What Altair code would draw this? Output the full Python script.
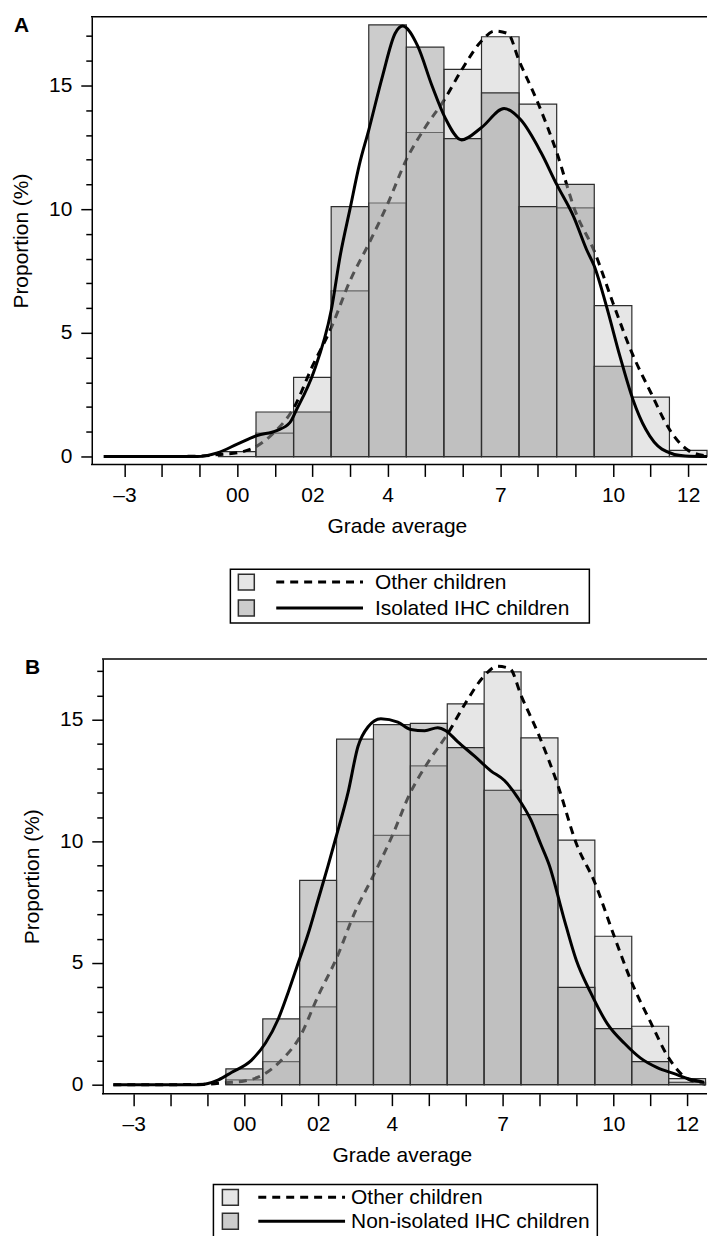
import altair as alt
import pandas as pd

# ---------------- data ----------------
bins = list(range(0, 13))
other_pct = [0.2, 0.95, 3.2, 6.7, 10.25, 13.1, 15.65, 16.97, 14.25, 10.05, 6.1, 2.4, 0.25]
isolated_pct = [0, 1.8, 1.8, 10.1, 17.45, 16.55, 12.85, 14.7, 10.1, 11.0, 3.65, 0, 0]
nonisolated_pct = [0.65, 2.7, 8.4, 14.2, 14.8, 14.85, 13.85, 12.1, 11.1, 4.0, 2.3, 0.95, 0.1]

other_curve_x = [-3.55, -2.0, -1.0, -0.5, 0.0, 0.5, 1.0, 1.5, 2.0, 2.5, 3.0, 3.5, 4.0, 4.5,
                 5.0, 5.5, 6.0, 6.5, 6.85, 7.2, 7.5, 8.0, 8.5, 9.0, 9.5, 10.0, 10.5, 11.0,
                 11.5, 12.0, 12.5]
other_curve_y = [0.0, 0.0, 0.02, 0.08, 0.15, 0.4, 1.0, 1.95, 3.65, 5.2, 7.1, 8.6, 10.2, 12.0,
                 13.3, 14.4, 15.7, 16.8, 17.2, 17.1, 16.0, 14.3, 12.3, 9.9, 8.3, 6.2, 4.2, 2.6,
                 1.1, 0.25, 0.02]

isolated_curve_x = [-3.55, -1.05, -0.53, 0.0, 0.53, 1.05, 1.4, 1.58, 2.03, 2.5, 2.75, 3.0, 3.25,
                    3.5, 3.87, 4.2, 4.4, 4.8, 5.18, 5.53, 5.97, 6.5, 7.1, 7.55, 8.08, 8.5, 8.95,
                    9.3, 9.5, 9.82, 10.18, 10.53, 10.87, 11.3, 11.92, 12.5]
isolated_curve_y = [0.0, 0.0, 0.15, 0.5, 0.85, 1.05, 1.37, 1.9, 3.4, 5.9, 8.2, 10.0, 11.8,
                    13.2, 15.4, 17.1, 17.4, 16.6, 15.0, 13.7, 12.8, 13.3, 14.07, 13.6, 12.3, 11.0, 9.7,
                    8.35, 7.7, 6.1, 4.07, 2.3, 1.1, 0.3, 0.02, 0.0]

nonisolated_curve_x = [-3.55, -1.24, -0.7, -0.35, 0.19, 0.57, 0.92, 1.19, 1.46, 1.73, 2.0, 2.27,
                       2.49, 2.81, 3.08, 3.35, 3.7, 4.16, 4.51, 4.89, 5.24, 5.46, 5.78, 6.24, 6.68,
                       7.05, 7.41, 7.76, 8.03, 8.27, 8.65, 9.0, 9.38, 9.84, 10.3, 10.73, 11.19,
                       11.65, 12.08, 12.46]
nonisolated_curve_y = [0.0, 0.0, 0.2, 0.5, 1.0, 1.7, 2.7, 3.8, 5.0, 6.2, 7.6, 9.0,
                       10.2, 12.0, 13.9, 14.7, 15.04, 14.9, 14.6, 14.55, 14.67, 14.55, 14.1, 13.5, 12.9,
                       12.5, 11.8, 10.9, 9.9, 9.0, 6.9, 5.1, 3.8, 2.5, 1.7, 1.1, 0.7,
                       0.45, 0.22, 0.1]

tick_values = list(range(-3, 13))
tick_labels = {-3: "\u20133", 0: "00", 2: "02", 4: "4", 7: "7", 10: "10", 12: "12"}
y_tick_values = list(range(0, 18))

legend_labels_a = ["Other children", "Isolated IHC children"]
legend_labels_b = ["Other children", "Non-isolated IHC children"]

# ---------------- styles ----------------
FONT = "Liberation Sans"
FS = 21
OTHER_FILL = "#e6e6e6"
IHC_FILL = "#9d9d9d"
IHC_OPACITY = 0.52
IHC_SWATCH = "#cccccc"
EDGE = "#2e2e2e"

label_expr = " : ".join(f"datum.value === {v} ? '{t}'" for v, t in tick_labels.items()) + " : ''"


def bar_df(values):
    return pd.DataFrame({
        "lo": [b - 0.5 for b, v in zip(bins, values) if v > 0],
        "hi": [b + 0.5 for b, v in zip(bins, values) if v > 0],
        "zero": [0.0 for v in values if v > 0],
        "pct": [v for v in values if v > 0],
    })


def panel(letter, ihc_values, ihc_cx, ihc_cy, labels, xdom, ydom, width, height,
          title_x, legend, inset=0):
    xs = alt.Scale(domain=xdom, nice=False, zero=False)
    ys = alt.Scale(domain=ydom, nice=False, zero=False)
    x_axis = alt.Axis(values=tick_values, labelExpr=label_expr, tickSize=12, tickWidth=1.5,
                      tickColor="black", domain=False,
                      labelFont=FONT, labelFontSize=FS, labelColor="black", labelPadding=8,
                      labelOverlap=False, labelFlush=False, grid=False,
                      title="Grade average", titleFont=FONT, titleFontSize=FS,
                      titleFontWeight="normal", titleColor="black", titlePadding=10,
                      titleX=title_x)
    y_axis = alt.Axis(values=y_tick_values, offset=-inset,
                      labelExpr="datum.value % 5 === 0 ? datum.label : ''",
                      tickSize={"condition": {"test": "datum.value % 5 === 0", "value": 11}, "value": 6},
                      tickWidth=1.5, tickColor="black", domainColor="black", domainWidth=1.5,
                      labelFont=FONT, labelFontSize=FS, labelColor="black", labelPadding=9,
                      labelOverlap=False, labelFlush=False, grid=False,
                      title="Proportion (%)", titleFont=FONT, titleFontSize=FS,
                      titleFontWeight="normal", titleColor="black", titlePadding=17)

    def X(f):
        return alt.X(f, type="quantitative", scale=xs, axis=x_axis)

    def Y(f):
        return alt.Y(f, type="quantitative", scale=ys, axis=y_axis)

    other_bars = alt.Chart(bar_df(other_pct)).mark_rect(
        fill=OTHER_FILL, stroke=EDGE, strokeWidth=1.2).encode(
        x=X("lo"), x2="hi", y=Y("zero"), y2="pct")
    other_line = alt.Chart(pd.DataFrame({"x": other_curve_x, "y": other_curve_y})).mark_line(
        color="black", strokeWidth=3, strokeDash=[8, 6], interpolate="monotone").encode(
        x=X("x"), y=Y("y"))
    ihc_bars = alt.Chart(bar_df(ihc_values)).mark_rect(
        fill=IHC_FILL, fillOpacity=IHC_OPACITY, stroke=EDGE, strokeWidth=1.2).encode(
        x=X("lo"), x2="hi", y=Y("zero"), y2="pct")
    ihc_line = alt.Chart(pd.DataFrame({"x": ihc_cx, "y": ihc_cy})).mark_line(
        color="black", strokeWidth=3, interpolate="monotone").encode(
        x=X("x"), y=Y("y"))

    one = pd.DataFrame({"k": [0]})
    lx0, lx1, ly0, ly1, sq_x, ln0, ln1, tx, rows_c, rows_b = legend
    layers = [other_bars, other_line, ihc_bars, ihc_line]
    # frame: top edge and bottom edge (left edge is the y-axis domain line)
    for yy in (0, height):
        layers.append(alt.Chart(one).mark_rule(color="black", strokeWidth=1.5).encode(
            x=alt.value(inset - 0.75), x2=alt.value(width), y=alt.value(yy)))
    layers.append(alt.Chart(one).mark_text(font=FONT, fontSize=FS, fontWeight="bold",
                                           align="left", baseline="alphabetic", color="black").encode(
        x=alt.value(inset - 78), y=alt.value(15), text=alt.value(letter)))
    layers.append(alt.Chart(one).mark_rect(fillOpacity=0, stroke="black", strokeWidth=1.5).encode(
        x=alt.value(lx0), x2=alt.value(lx1), y=alt.value(ly0), y2=alt.value(ly1)))
    for i, (lab, fill) in enumerate(zip(labels, [OTHER_FILL, IHC_SWATCH])):
        layers.append(alt.Chart(one).mark_square(size=256, fill=fill, stroke=EDGE, strokeWidth=1.5,
                                                 opacity=1).encode(
            x=alt.value(sq_x), y=alt.value(rows_c[i])))
        rule_kw = dict(color="black", strokeWidth=3)
        if i == 0:
            rule_kw["strokeDash"] = [8, 6]
        layers.append(alt.Chart(one).mark_rule(**rule_kw).encode(
            x=alt.value(ln0), x2=alt.value(ln1), y=alt.value(rows_c[i])))
        layers.append(alt.Chart(one).mark_text(font=FONT, fontSize=FS, align="left",
                                               baseline="alphabetic", color="black").encode(
            x=alt.value(tx), y=alt.value(rows_b[i]), text=alt.value(lab)))
    return alt.layer(*layers).properties(width=width, height=height)


# panel A: plot origin at page (93, 13)
panel_a = panel("A", isolated_pct, isolated_curve_x, isolated_curve_y, legend_labels_a,
                [-3.87, 12.5], [-0.32, 17.78], 617, 449, 306,
                (139, 499, 554, 608, 155, 185, 272, 284, [567, 593], [574, 600]))
# panel B: group origin at page x 93, its axis sits 11 px further right (page x 104)
panel_b = panel("B", nonisolated_pct, nonisolated_curve_x, nonisolated_curve_y, legend_labels_b,
                [-4.135, 12.54], [-0.37, 17.5], 617, 436, 311,
                (122, 507, 527, 585, 139, 167, 254, 260, [540, 564], [547, 571]), inset=11)

# the reference is cut off just below the second legend: a negative bottom padding crops
# the (open) bottom edge of that legend box
chart = alt.vconcat(panel_a, panel_b, spacing=33).properties(
    padding={"left": 2, "top": 5, "right": 0, "bottom": -9},
    background="white").configure_view(stroke=None)

chart.save("out.html", embed_options={"renderer": "svg", "actions": False})
